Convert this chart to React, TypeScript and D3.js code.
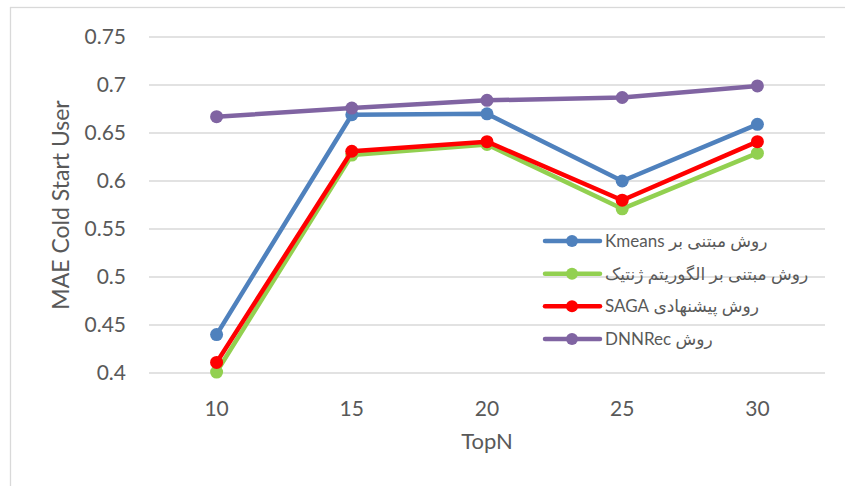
import React from "react";
import * as d3 from "d3";

const categories = ["10", "15", "20", "25", "30"];
const yTicks = [0.4, 0.45, 0.5, 0.55, 0.6, 0.65, 0.7, 0.75];
const yTickLabels = ["0.4", "0.45", "0.5", "0.55", "0.6", "0.65", "0.7", "0.75"];

const kmeans = [0.44, 0.669, 0.67, 0.6, 0.659];
const genetic = [0.401, 0.627, 0.638, 0.571, 0.629];
const saga = [0.411, 0.631, 0.641, 0.58, 0.641];
const dnnrec = [0.667, 0.676, 0.684, 0.687, 0.699];

const seriesNames = [
  "روش مبتنی بر Kmeans",
  "روش مبتنی بر الگوریتم ژنتیک",
  "روش پیشنهادی SAGA",
  "روش DNNRec",
];
const seriesColors = ["#4F81BD", "#92D050", "#FF0000", "#8064A2"];

const W = 845;
const H = 486;
const FONT = "Lato, Carlito, 'Open Sans', 'DejaVu Sans', sans-serif";
const TEXT = "#595959";

export default function App() {
  const series = [kmeans, genetic, saga, dnnrec].map((values, i) => ({
    name: seriesNames[i],
    color: seriesColors[i],
    values,
  }));

  const x = d3.scalePoint<string>().domain(categories).range([149, 825]).padding(0.5);
  const y = d3.scaleLinear().domain([0.4, 0.75]).range([373, 37]);

  const line = d3
    .line<number>()
    .x((_, i) => x(categories[i]) as number)
    .y((d) => y(d));

  const legendX = 545;
  const legendY = d3.scaleLinear().domain([0, 3]).range([241, 339]);

  return (
    <div style={{ position: "fixed", left: 0, top: 0 }}>
      <svg width={W} height={H} style={{ display: "block", background: "#fff" }}>
        {/* chart border (cropped at right/bottom) */}
        <rect x={10.5} y={7.5} width={W} height={H} fill="none" stroke="#d9d9d9" strokeWidth={1.3} />

        {/* grid + y tick labels */}
        {yTicks.map((t, i) => (
          <g key={t}>
            <line x1={149} x2={825} y1={y(t)} y2={y(t)} stroke="#d9d9d9" strokeWidth={1.3} />
            <text
              x={126}
              y={y(t)}
              dy="0.35em"
              textAnchor="end"
              fontFamily={FONT}
              fontSize={21}
              fill={TEXT}
            >
              {yTickLabels[i]}
            </text>
          </g>
        ))}

        {/* x tick labels */}
        {categories.map((c) => (
          <text
            key={c}
            x={x(c)}
            y={409}
            dy="0.35em"
            textAnchor="middle"
            fontFamily={FONT}
            fontSize={21}
            fill={TEXT}
          >
            {c}
          </text>
        ))}

        {/* axis titles */}
        <text x={487} y={441} dy="0.35em" textAnchor="middle" fontFamily={FONT} fontSize={22} fill={TEXT}>
          TopN
        </text>
        <text
          transform="translate(61,205) rotate(-90)"
          dy="0.35em"
          textAnchor="middle"
          fontFamily={FONT}
          fontSize={23}
          fill={TEXT}
        >
          MAE Cold Start User
        </text>

        {/* series */}
        {series.map((s) => (
          <g key={s.name}>
            <path d={line(s.values) || ""} fill="none" stroke={s.color} strokeWidth={4.5} strokeLinejoin="round" />
            {s.values.map((v, i) => (
              <circle key={i} cx={x(categories[i])} cy={y(v)} r={6.5} fill={s.color} />
            ))}
          </g>
        ))}

        {/* legend */}
        {series.map((s, i) => (
          <g key={"lg" + i}>
            <line
              x1={legendX}
              x2={legendX + 55}
              y1={legendY(i)}
              y2={legendY(i)}
              stroke={s.color}
              strokeWidth={4.5}
              strokeLinecap="round"
            />
            <circle cx={legendX + 27} cy={legendY(i)} r={6} fill={s.color} />
            <text
              x={legendX + 60}
              y={legendY(i)}
              dy="0.35em"
              textAnchor="start"
              fontFamily={FONT}
              fontSize={17}
              fill={TEXT}
            >
              {"\u202B" + s.name + "\u202C"}
            </text>
          </g>
        ))}
      </svg>
    </div>
  );
}
